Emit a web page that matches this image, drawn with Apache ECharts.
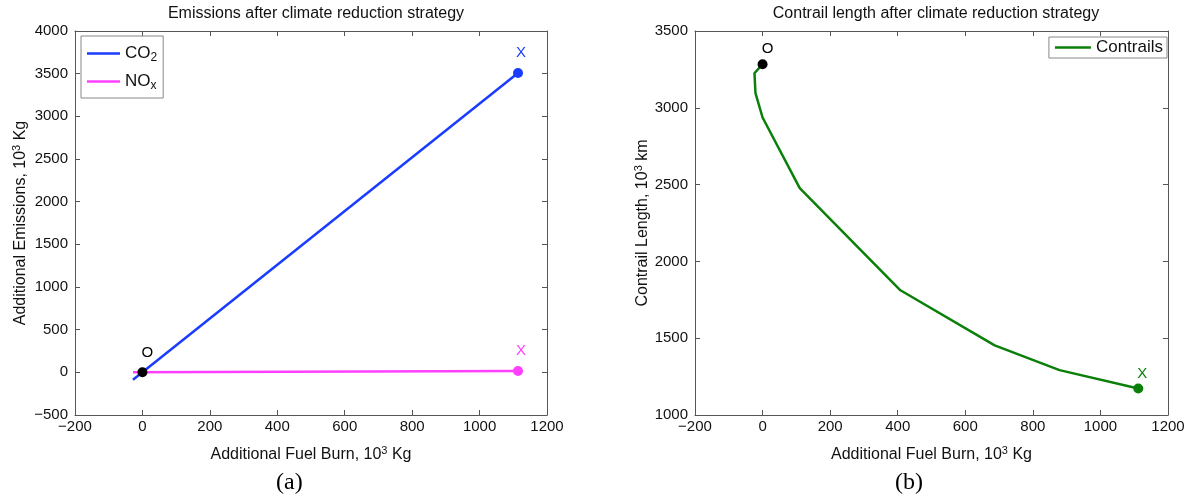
<!DOCTYPE html>
<html>
<head>
<meta charset="utf-8">
<script src="https://cdn.jsdelivr.net/npm/echarts@6/dist/echarts.min.js"></script>
<style>
  html, body { margin: 0; padding: 0; background: #fff; }
  #chart { width: 1192px; height: 499px; }
</style>
</head>
<body>
<div id="chart"></div>
<script>
// 左图数据: 排放量
const fuelEnds = [-28, 1114];
const co2 = [-88, 3507];
const nox = [0, 15];
const originPt = [0, 0];
const co2End = [1114, 3507];
const noxEnd = [1114, 15];

// 右图数据: 尾迹长度
const contrailFuel = [0, -24, -21, 0, 110, 408, 687, 879, 1112];
const contrailLen = [3284, 3225, 3095, 2937, 2477, 1812, 1453, 1292, 1173];

// 坐标轴范围
const xRange = [-200, 1200, 200];
const yRangeA = [-500, 4000, 500];
const yRangeB = [1000, 3500, 500];

const FONT = "Liberation Sans";
const AXIS_COLOR = "#555";

const myChart = echarts.init(document.querySelector("#chart"));

const minus = (v) => String(v).replace("-", "\u2212");

// 主坐标轴
function mainAxis(grid, range, isX, name, nameGap) {
  return {
    type: "value",
    gridIndex: grid,
    position: isX ? "bottom" : "left",
    min: range[0],
    max: range[1],
    interval: range[2],
    name: name,
    nameLocation: "middle",
    nameGap: nameGap,
    nameTextStyle: {
      fontFamily: FONT,
      fontSize: 16,
      color: "#111",
      rich: {
        sup: { fontFamily: FONT, fontSize: 11, color: "#111", verticalAlign: "top", padding: [0, 0, 8, 0] },
      },
    },
    axisLine: { onZero: false, lineStyle: { color: AXIS_COLOR, width: 1 } },
    axisTick: { inside: true, length: 5, lineStyle: { color: AXIS_COLOR } },
    axisLabel: {
      fontFamily: FONT,
      fontSize: 15,
      color: "#111",
      margin: isX ? 4 : 7,
      formatter: minus,
    },
    splitLine: { show: false },
  };
}

// 边框坐标轴 (上 / 右)
function boxAxis(grid, range, isX) {
  return {
    type: "value",
    gridIndex: grid,
    position: isX ? "top" : "right",
    min: range[0],
    max: range[1],
    interval: range[2],
    axisLine: { onZero: false, lineStyle: { color: AXIS_COLOR, width: 1 } },
    axisTick: { inside: true, length: 5, lineStyle: { color: AXIS_COLOR } },
    axisLabel: { show: false },
    splitLine: { show: false },
  };
}

function lineSeries(name, xs, ys, color, xi, yi) {
  return {
    name: name,
    type: "line",
    xAxisIndex: xi,
    yAxisIndex: yi,
    data: xs.map((x, i) => [x, ys[i]]),
    symbol: "none",
    lineStyle: { color: color, width: 2.5 },
    itemStyle: { color: color },
    z: 2,
  };
}

function marker(pt, color, text, xi, yi, offset) {
  return {
    type: "scatter",
    xAxisIndex: xi,
    yAxisIndex: yi,
    data: [pt],
    symbolSize: 10,
    itemStyle: { color: color, opacity: 1 },
    label: {
      show: true,
      position: "top",
      distance: 5,
      offset: offset,
      formatter: text,
      fontFamily: FONT,
      fontSize: 15,
      color: color,
    },
    z: 5,
  };
}

const supName = (s) => s.replace("10^3", "10{sup|3}");

const legendRich = {
  n: { fontFamily: FONT, fontSize: 17, color: "#111" },
  sub: { fontFamily: FONT, fontSize: 12, color: "#111", verticalAlign: "bottom", padding: [9, 0, 0, 0] },
};

const option = {
  animation: false,
  backgroundColor: "#fff",
  title: [
    {
      text: "Emissions after climate reduction strategy",
      left: 311,
      textAlign: "center",
      top: 1,
      textStyle: { fontFamily: FONT, fontSize: 16, fontWeight: "normal", color: "#111" },
    },
    {
      text: "Contrail length after climate reduction strategy",
      left: 931,
      textAlign: "center",
      top: 1,
      textStyle: { fontFamily: FONT, fontSize: 16, fontWeight: "normal", color: "#111" },
    },
  ],
  grid: [
    { left: 75, right: 645, top: 31, bottom: 84 },
    { left: 695, right: 24, top: 31, bottom: 84 },
  ],
  legend: [
    {
      data: ["CO2", "NOx"],
      orient: "vertical",
      left: 81,
      top: 36,
      icon: "rect",
      itemWidth: 33,
      itemHeight: 2.5,
      itemGap: 9,
      padding: [9, 6, 6, 6],
      borderColor: "#888",
      borderWidth: 1,
      backgroundColor: "#fff",
      formatter: (name) => (name === "CO2" ? "{n|CO}{sub|2}" : "{n|NO}{sub|x}"),
      textStyle: { rich: legendRich },
    },
    {
      data: ["Contrails"],
      right: 25,
      top: 37,
      icon: "rect",
      itemWidth: 36,
      itemHeight: 2.5,
      padding: [2, 4, 2, 6],
      borderColor: "#888",
      borderWidth: 1,
      backgroundColor: "#fff",
      textStyle: { fontFamily: FONT, fontSize: 17, color: "#111" },
    },
  ],
  xAxis: [
    mainAxis(0, xRange, true, supName("Additional Fuel Burn, 10^3 Kg"), 30),
    mainAxis(1, xRange, true, supName("Additional Fuel Burn, 10^3 Kg"), 30),
    boxAxis(0, xRange, true),
    boxAxis(1, xRange, true),
  ],
  yAxis: [
    mainAxis(0, yRangeA, false, supName("Additional Emissions, 10^3 Kg"), 45),
    mainAxis(1, yRangeB, false, supName("Contrail Length, 10^3 km"), 40),
    boxAxis(0, yRangeA, false),
    boxAxis(1, yRangeB, false),
  ],
  series: [
    lineSeries("CO2", fuelEnds, co2, "#1a3cff", 0, 0),
    lineSeries("NOx", fuelEnds, nox, "#ff40ff", 0, 0),
    lineSeries("Contrails", contrailFuel, contrailLen, "#0a800a", 1, 1),
    marker(co2End, "#1a3cff", "X", 0, 0, [3, -3]),
    marker(noxEnd, "#ff40ff", "X", 0, 0, [3, -3]),
    marker(originPt, "#000", "O", 0, 0, [5, -2]),
    marker([contrailFuel[0], contrailLen[0]], "#000", "O", 1, 1, [5, 2]),
    marker([contrailFuel[contrailFuel.length - 1], contrailLen[contrailLen.length - 1]], "#0a800a", "X", 1, 1, [4, 3]),
  ],
  graphic: [
    {
      type: "text",
      left: 276,
      top: 471,
      style: { text: "(a)", fontFamily: "Liberation Serif", fontSize: 24, fill: "#000" },
    },
    {
      type: "text",
      left: 895,
      top: 471,
      style: { text: "(b)", fontFamily: "Liberation Serif", fontSize: 24, fill: "#000" },
    },
  ],
};

myChart.setOption(option);
</script>
</body>
</html>
